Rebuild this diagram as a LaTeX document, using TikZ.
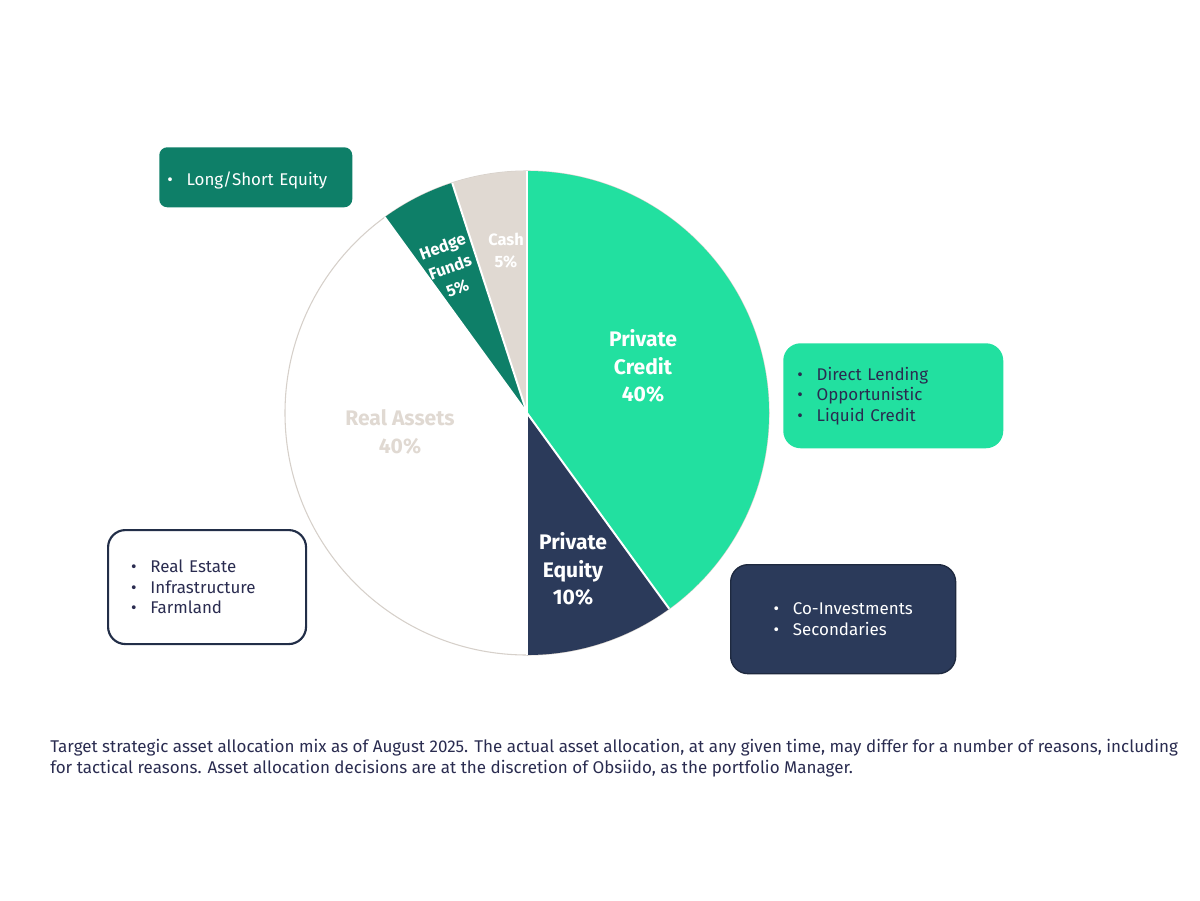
\documentclass[tikz,border=0pt]{standalone}
\usepackage{fontspec}
\setmainfont{Fira Sans}
\definecolor{credit}{HTML}{22E0A0}
\definecolor{equity}{HTML}{2B3A5A}
\definecolor{hedge}{HTML}{0E7F68}
\definecolor{cash}{HTML}{E0D9D2}
\definecolor{navytext}{HTML}{2A2C50}
\newcommand{\bul}{\makebox[14.5pt][l]{\textbullet}}

\begin{document}
\begin{tikzpicture}[x=0.75pt,y=-0.75pt]

    \tikzset{infobox/.style={%
      rounded corners=13pt,%
      align=left,%
      font=\fontsize{12.7}{15.4}\selectfont,%
      inner ysep=0pt}%
    };

    \tikzset{slicelabel/.style={align=center, text=white,
      font=\bfseries\fontsize{15.8}{20.5}\selectfont}};

    \tikzset{smalllabel/.style={slicelabel,
      font=\bfseries\fontsize{12.3}{16.5}\selectfont}};

    \useasboundingbox (0,0) rectangle (1200,900);

    %%%%%%%
    % pie %
    %%%%%%%
    \begin{scope}[shift={(527,413)}]
    \begin{scope}[yscale=-1]
      \fill [white] (0,0) circle [radius=242];
      \draw [cash!90!gray, line width=0.8pt] (0,0) circle [radius=242];
      \fill [credit] (0,0) -- (90:242) arc [start angle=90, end angle=-54, radius=242] -- cycle;
      \fill [equity] (0,0) -- (-54:242) arc [start angle=-54, end angle=-90, radius=242] -- cycle;
      \fill [hedge] (0,0) -- (126:242) arc [start angle=126, end angle=108, radius=242] -- cycle;
      \fill [cash] (0,0) -- (108:242) arc [start angle=108, end angle=90, radius=242] -- cycle;
      \foreach \a in {90,-54,-90,126,108}
        \draw [white, line width=1.5pt] (0,0) -- (\a:242);
    \end{scope}
    \end{scope}

    \node [slicelabel] (pc) at (643,366) {Private\\Credit\\40\%};
    \node [slicelabel] (pe) at (573,569) {Private\\Equity\\10\%};
    \node [slicelabel, text=cash] (ra) at (400,432) {Real Assets\\40\%};
    \node [smalllabel, rotate=20] (hf) at (450,267) {Hedge\\Funds\\5\%};
    \node [smalllabel] (ca) at (506,251) {Cash\\5\%};

    %%%%%%%%%
    % boxes %
    %%%%%%%%%
    \node [infobox, fill=hedge, text=white, anchor=north west,
      minimum width=193*0.75pt, minimum height=60*0.75pt,
      text width=(193-16)*0.75pt, inner xsep=8*0.75pt,
      text height=12pt, text depth=0pt,
      rounded corners=6pt] (ls) at (159,147) {\bul Long/Short Equity};

    \node [infobox, fill=credit, text=navytext, anchor=north west,
      minimum width=220*0.75pt, minimum height=105*0.75pt,
      text width=(220-28)*0.75pt, inner xsep=14*0.75pt]
      (dl) at (783,343) {\bul Direct Lending\\\bul Opportunistic\\\bul Liquid Credit};

    \node [infobox, fill=equity, draw=equity!70!black, line width=1pt, text=white, anchor=north west,
      minimum width=225*0.75pt, minimum height=109*0.75pt]
      (ci) at (730,564) {\bul Co-Investments\\\bul Secondaries};

    \node [infobox, fill=white, draw=equity!80!black, line width=1.6pt, text=navytext, anchor=north west,
      minimum width=198*0.75pt, minimum height=114*0.75pt,
      text width=(198-46)*0.75pt, inner xsep=23*0.75pt]
      (re) at (107,529) {\bul Real Estate\\\bul Infrastructure\\\bul Farmland};

    %%%%%%%%%%%
    % caption %
    %%%%%%%%%%%
    \node [anchor=north west, align=left, text=navytext, inner sep=0pt,
      font=\fontsize{12.75}{15.75}\selectfont] (cap) at (50,739)
      {Target strategic asset allocation mix as of August 2025. The actual asset allocation, at any given time, may differ for a number of reasons, including\\
       for tactical reasons. Asset allocation decisions are at the discretion of Obsiido, as the portfolio Manager.};

\end{tikzpicture}
\end{document}
